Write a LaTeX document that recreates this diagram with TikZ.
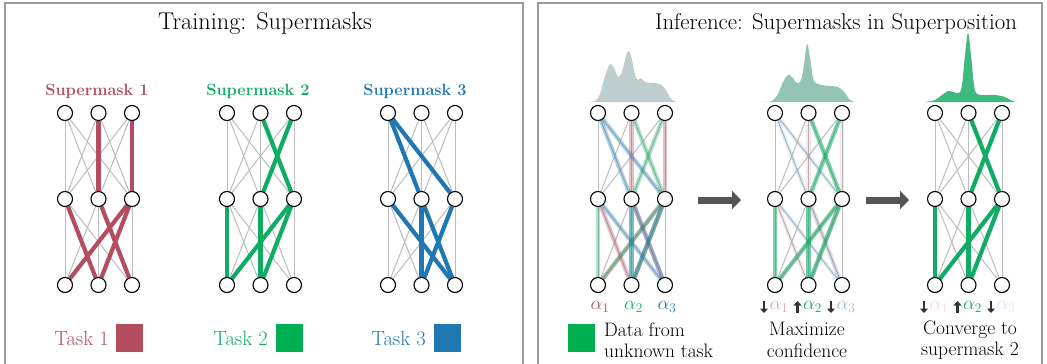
\RequirePackage{fix-cm}
\documentclass[tikz,border=0pt]{standalone}
\usetikzlibrary{arrows.meta}
\definecolor{mred}{RGB}{180,77,96}
\definecolor{mgreen}{RGB}{16,172,100}
\definecolor{sqgreen}{RGB}{0,176,80}
\definecolor{mblue}{RGB}{31,119,180}
\definecolor{edgegray}{RGB}{188,188,188}
\definecolor{panelgray}{RGB}{155,155,155}
\definecolor{arrowgray}{RGB}{85,85,85}
\definecolor{curveA}{RGB}{190,206,206}
\definecolor{curveB}{RGB}{148,196,182}
\definecolor{curveC}{RGB}{62,186,128}
\definecolor{fadered}{RGB}{222,160,178}
\definecolor{fadeblue}{RGB}{150,190,222}
\definecolor{vfadered}{RGB}{246,212,232}
\definecolor{vfadeblue}{RGB}{222,232,246}
\definecolor{glyphgray}{RGB}{50,50,50}
\pgfdeclarelayer{edges}
\pgfsetlayers{edges,main}
\newcommand\mknet[2]{%
  \foreach \ly/\yy in {1/113,2/199,3/285}{%
    \foreach \ii in {1,2,3}{%
      \node[neuron] (#1-\ly-\ii) at ({#2+(\ii-1)*33.5},\yy) {};}}%
  \begin{pgfonlayer}{edges}
    \foreach \aa in {1,2,3}{\foreach \bb in {1,2,3}{%
      \draw[grayedge] (#1-1-\aa) -- (#1-2-\bb);
      \draw[grayedge] (#1-2-\aa) -- (#1-3-\bb);}}
  \end{pgfonlayer}}
\newcommand\mkmask[3]{%
  \begin{pgfonlayer}{edges}
    \foreach \ly/\aa/\bb in #3{%
      \pgfmathtruncatemacro\nly{\ly+1}%
      \draw[#2] (#1-\ly-\aa) -- (#1-\nly-\bb);}
  \end{pgfonlayer}}
\def\maskone{1/2/2,1/3/3,2/1/2,2/2/3,2/3/1,2/3/2}
\def\masktwo{1/2/3,1/3/2,2/1/1,2/2/2,2/3/1,2/3/2}
\def\maskthree{1/1/2,1/1/3,2/1/3,2/2/2,2/2/3,2/3/2}
\begin{document}
\begin{tikzpicture}[x=1pt,y=-1pt,
  neuron/.style={circle,draw=black,fill=white,line width=1.1pt,minimum size=15pt,inner sep=0pt},
  grayedge/.style={draw=edgegray,line width=1pt},
  maskedge/.style={line width=4.2pt},
  panel/.style={draw=panelgray,line width=1.4pt},
  title/.style={font=\fontsize{24.3}{29}\selectfont,anchor=base},
  smlabel/.style={font=\bfseries\fontsize{16.3}{19}\selectfont,anchor=base},
  tasktext/.style={font=\fontsize{20.5}{24}\selectfont,anchor=base east,inner sep=0pt},
  swatch/.style={minimum width=27pt,minimum height=28pt,inner sep=0pt},
  note/.style={font=\fontsize{19.5}{21.5}\selectfont,inner sep=0pt},
  alab/.style={font=\fontsize{19}{22}\selectfont,inner sep=0pt},
  bigarrow/.style={draw=arrowgray,line width=7pt,-{Triangle[length=9pt,width=18pt,fill=arrowgray]}},
  tinyarrow/.style={draw=glyphgray,line width=2.4pt,-{Triangle[length=4.5pt,width=8pt,fill=glyphgray]}},
  ]
\useasboundingbox (0,0) rectangle (1047,364);
\begin{scope}
\clip (0,0) rectangle (1047,364);
\draw[panel] (5,3) rectangle (523,380);
\draw[panel] (538,3) rectangle (1042,380);
\end{scope}
% titles
\node[title] (t1) at (265,29) {Training: Supermasks};
\node[title,font=\fontsize{22.8}{27}\selectfont] (t2) at (836,29) {Inference: Supermasks in Superposition};
% training nets
\mknet{n1}{65}
\mknet{n2}{227}
\mknet{n3}{388}
\mkmask{n1}{maskedge,draw=mred}{\maskone}
\mkmask{n2}{maskedge,draw=mgreen}{\masktwo}
\mkmask{n3}{maskedge,draw=mblue}{\maskthree}
\node[smlabel,text=mred] (s1) at (97,95) {Supermask 1};
\node[smlabel,text=mgreen] (s2) at (258,95) {Supermask 2};
\node[smlabel,text=mblue] (s3) at (415,95) {Supermask 3};
% task legends
\node[tasktext,text=mred] (k1) at (109,345) {Task 1};
\node[swatch,fill=mred] (q1) at (129.5,338) {};
\node[tasktext,text=mgreen] (k2) at (268,345) {Task 2};
\node[swatch,fill=sqgreen] (q2) at (289,338) {};
\node[tasktext,text=mblue] (k3) at (426,345) {Task 3};
\node[swatch,fill=mblue] (q3) at (447.5,338) {};
% inference nets
\mknet{na}{598}
\mknet{nb}{775}
\mknet{nc}{935}
\mkmask{na}{maskedge,draw=mred,opacity=0.35}{\maskone}
\mkmask{na}{maskedge,draw=mgreen,opacity=0.35}{\masktwo}
\mkmask{na}{maskedge,draw=mblue,opacity=0.35}{\maskthree}
\mkmask{nb}{maskedge,draw=mred,opacity=0.12}{\maskone}
\mkmask{nb}{maskedge,draw=mblue,opacity=0.12}{\maskthree}
\mkmask{nb}{maskedge,draw=mgreen,opacity=0.55}{\masktwo}
\mkmask{nc}{maskedge,draw=mgreen}{\masktwo}
% output distributions
\fill[curveA] plot[smooth,tension=0.55] coordinates {(587,102) (595,101) (600,94) (605,76) (610,64) (614,68) (618,77) (622,72) (626,56) (629,51) (632,60) (635,75) (638,80) (641,78) (645,82) (652,83) (660,84) (666,90) (671,99) (677,102)} -- cycle;
\fill[curveB] plot[smooth,tension=0.55] coordinates {(763,102) (772,101) (778,94) (783,82) (788,75) (792,77) (797,83) (801,80) (804,65) (807,44) (810,58) (813,78) (816,83) (822,85) (830,86) (838,87) (845,93) (850,100) (855,102)} -- cycle;
\fill[curveC] plot[smooth,tension=0.55] coordinates {(925,102) (935,100) (942,95) (948,91) (953,92) (959,93) (962,85) (965,55) (968,33) (971,55) (974,85) (977,94) (985,95) (995,95) (1005,97) (1012,101) (1017,102)} -- cycle;
% arrows between stages
\coordinate (ar1s) at (698,200);
\coordinate (ar1e) at (741,200);
\coordinate (ar2s) at (866,200);
\coordinate (ar2e) at (909,200);
\draw[bigarrow] (ar1s) -- (ar1e);
\draw[bigarrow] (ar2s) -- (ar2e);
% alpha labels
\node[alab,text=mred] (aa1) at (600,307) {$\alpha_1$};
\node[alab,text=mgreen] (aa2) at (633.5,307) {$\alpha_2$};
\node[alab,text=mblue] (aa3) at (667,307) {$\alpha_3$};
\node[alab,text=fadered] (ab1) at (779,307) {$\alpha_1$};
\node[alab,text=mgreen] (ab2) at (812.5,307) {$\alpha_2$};
\node[alab,text=fadeblue] (ab3) at (846,307) {$\alpha_3$};
\node[alab,text=vfadered] (ac1) at (939,307) {$\alpha_1$};
\node[alab,text=mgreen] (ac2) at (972.5,307) {$\alpha_2$};
\node[alab,text=vfadeblue] (ac3) at (1006,307) {$\alpha_3$};
\foreach \nm in {ab1,ab3,ac1,ac3}{
  \draw[tinyarrow] ([xshift=-15pt,yshift=6pt]\nm.center) -- ([xshift=-15pt,yshift=-6pt]\nm.center);}
\foreach \nm in {ab2,ac2}{
  \draw[tinyarrow] ([xshift=-15pt,yshift=-6pt]\nm.center) -- ([xshift=-15pt,yshift=6pt]\nm.center);}
% bottom notes
\node[swatch,fill=sqgreen] (qd) at (581.5,338) {};
\node[note,align=left,anchor=west] (d1) at (604,340) {Data from\\unknown task};
\node[note,align=center] (d2) at (807,340) {Maximize\\confidence};
\node[note,align=center] (d3) at (970,340) {Converge to\\supermask 2};
\end{tikzpicture}
\end{document}
